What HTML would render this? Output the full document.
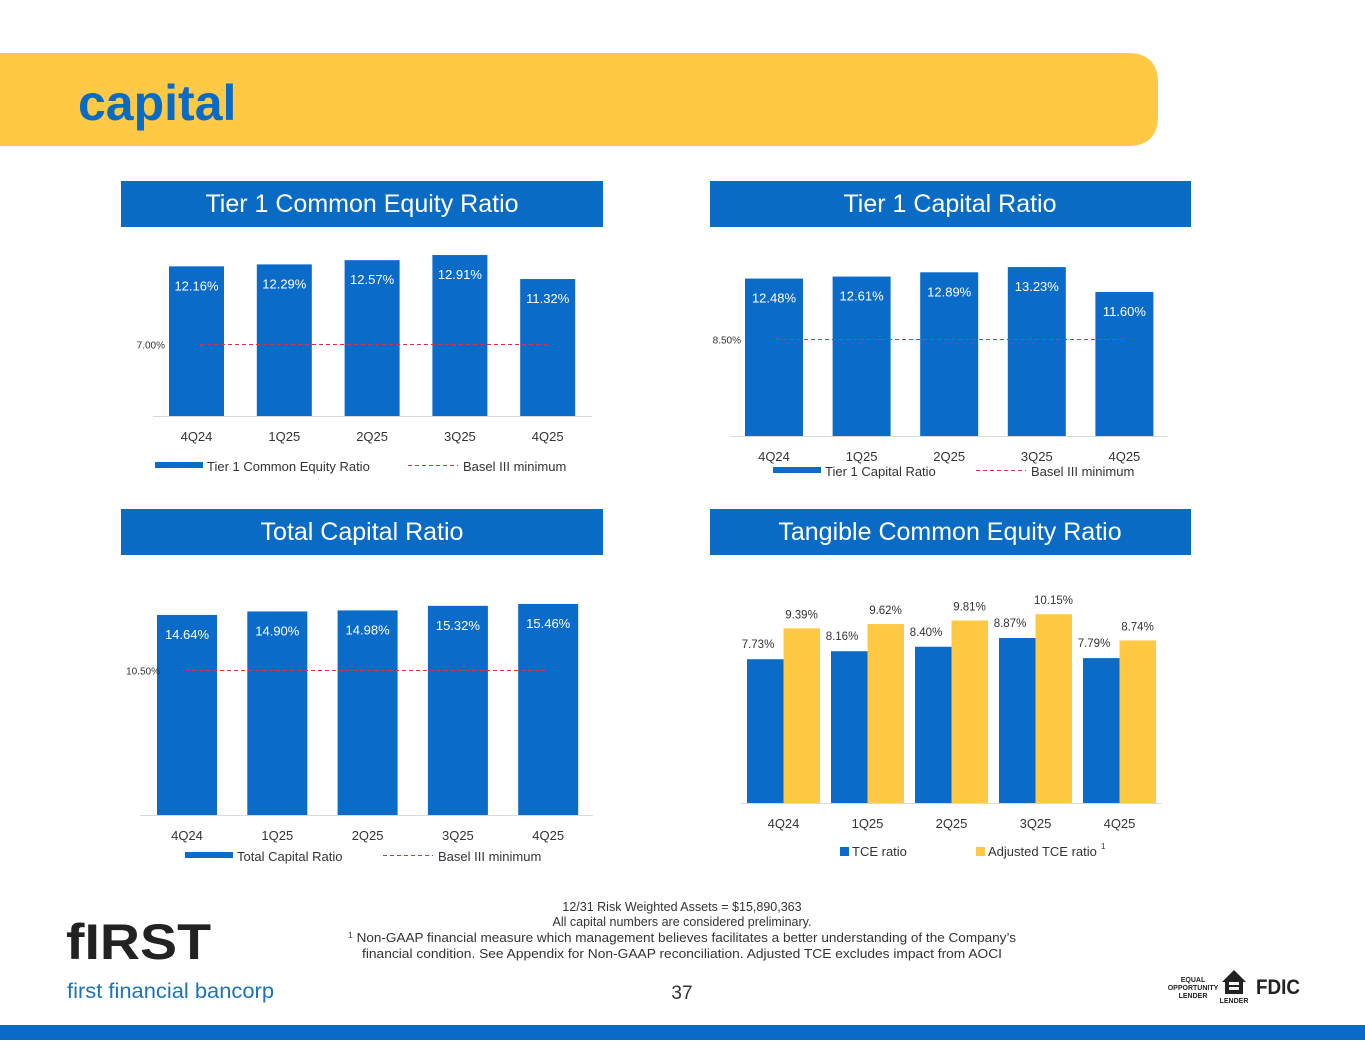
<!DOCTYPE html>
<html><head><meta charset="utf-8">
<style>
html,body{margin:0;padding:0;background:#fff;}
body{width:1365px;height:1055px;overflow:hidden;font-family:"Liberation Sans",sans-serif;}
svg text{font-family:"Liberation Sans",sans-serif;}
</style></head>
<body>
<svg id="page" width="1365" height="1055" viewBox="0 0 1365 1055" xmlns="http://www.w3.org/2000/svg">
  <path d="M0 53 H1128 Q1158 53 1158 83 V116 Q1158 146 1128 146 H0 Z" fill="#FFC845"/>
  <text x="78" y="120" font-size="50" font-weight="bold" fill="#0A6BC4">capital</text>

  <rect x="121" y="181" width="482" height="46" fill="#0A6BC4"/>
  <text x="362" y="212" text-anchor="middle" font-size="25" fill="#fff">Tier 1 Common Equity Ratio</text>
  <rect x="710" y="181" width="481" height="46" fill="#0A6BC4"/>
  <text x="950" y="212" text-anchor="middle" font-size="25" fill="#fff">Tier 1 Capital Ratio</text>
  <rect x="121" y="509" width="482" height="46" fill="#0A6BC4"/>
  <text x="362" y="540" text-anchor="middle" font-size="25" fill="#fff">Total Capital Ratio</text>
  <rect x="710" y="509" width="481" height="46" fill="#0A6BC4"/>
  <text x="950" y="540" text-anchor="middle" font-size="25" fill="#fff">Tangible Common Equity Ratio</text>

  <g id="charts"></g>

  <g font-size="12.5" fill="#333" text-anchor="middle">
    <text x="682" y="911">12/31 Risk Weighted Assets = $15,890,363</text>
    <text x="682" y="926">All capital numbers are considered preliminary.</text>
    <text x="682" y="942" textLength="668" lengthAdjust="spacingAndGlyphs"><tspan font-size="8" dy="-4">1</tspan><tspan dy="4"> Non-GAAP financial measure which management believes facilitates a better understanding of the Company’s</tspan></text>
    <text x="682" y="958" textLength="640" lengthAdjust="spacingAndGlyphs">financial condition.  See Appendix for Non-GAAP reconciliation.  Adjusted TCE excludes impact from AOCI</text>
  </g>
  <text x="682" y="999" text-anchor="middle" font-size="19" fill="#333">37</text>

  <g>
    <text x="66" y="959" font-size="50" font-weight="bold" fill="#222" textLength="145" lengthAdjust="spacingAndGlyphs">fIRST</text>
    <text x="67" y="998" font-size="21" fill="#1A73BE" textLength="207" lengthAdjust="spacingAndGlyphs">first financial bancorp</text>
  </g>
  <g fill="#222" font-weight="bold">
    <text x="1193" y="982" font-size="7" text-anchor="middle">EQUAL</text>
    <text x="1193" y="990" font-size="7" text-anchor="middle">OPPORTUNITY</text>
    <text x="1193" y="998" font-size="7" text-anchor="middle">LENDER</text>
    <path d="M1222 982 L1234 970 L1246 982 H1243 V994 H1225 V982 Z" fill="#222"/>
    <rect x="1229" y="982" width="10" height="3" fill="#fff"/><rect x="1229" y="987" width="10" height="3" fill="#fff"/>
    <text x="1234" y="1003" font-size="7" text-anchor="middle">LENDER</text>
    <text x="1256" y="994" font-size="21" textLength="44" lengthAdjust="spacingAndGlyphs">FDIC</text>
  </g>
  <rect x="0" y="1025" width="1365" height="15" fill="#0A6BC4"/>
</svg>
<script>
const quarters = ["4Q24","1Q25","2Q25","3Q25","4Q25"];
const tier1CommonValues = [12.16,12.29,12.57,12.91,11.32];
const tier1CommonMin = 7.00;
const tier1CapitalValues = [12.48,12.61,12.89,13.23,11.60];
const tier1CapitalMin = 8.50;
const totalCapitalValues = [14.64,14.90,14.98,15.32,15.46];
const totalCapitalMin = 10.50;
const tceValues = [7.73,8.16,8.40,8.87,7.79];
const adjTceValues = [9.39,9.62,9.81,10.15,8.74];

const NS="http://www.w3.org/2000/svg";
const root=document.getElementById('charts');
function mk(tag,attrs,parent,text){const e=document.createElementNS(NS,tag);for(const k in attrs)e.setAttribute(k,attrs[k]);if(text!==undefined)e.textContent=text;(parent||root).appendChild(e);return e;}
const fmt=v=>v.toFixed(2)+'%';

function barChart(cfg,values,minVal){
  const g=mk('g',{});
  
  
  const y=v=>cfg.base-(v-cfg.v0)*cfg.k;
  const x=i=>cfg.x0+i*cfg.step;
  const ax=mk('line',{x1:cfg.ax0,x2:cfg.ax1,y1:cfg.base+0.5,y2:cfg.base+0.5,stroke:'#d9d9d9','stroke-width':1},g);
  
  
  values.forEach((v,i)=>{
    const r=mk('rect',{x:x(i),y:y(v),width:cfg.w,height:cfg.base-y(v),fill:'#0A6BC9'},g);
    
    
    const t=mk('text',{x:x(i)+cfg.w/2,y:y(v)+24,'text-anchor':'middle','font-size':13,fill:'#fff'},g,fmt(v));
    
    
    const q=mk('text',{x:x(i)+cfg.w/2,y:cfg.base+25,'text-anchor':'middle','font-size':13,fill:'#333'},g,quarters[i]);
    
    
  });
  const ly=Math.round(y(minVal))+0.5;
  const dl=mk('line',{x1:cfg.d0,x2:cfg.d1,y1:ly,y2:ly,stroke:'#E0303A','stroke-width':1,'stroke-dasharray':'4,3'},g);
  
  
  const ml=mk('text',{x:cfg.mlx,y:ly+4,'text-anchor':'end','font-size':10,fill:'#333'},g,fmt(minVal));
  
  
  const lg=mk('g',{},g);
  
  
  mk('rect',{x:cfg.lx,y:cfg.ly-5,width:48,height:6,fill:'#0A6BC9'},lg);
  mk('text',{x:cfg.lx+52,y:cfg.ly+4,'font-size':13,fill:'#333'},lg,cfg.label);
  mk('line',{x1:cfg.lx2,x2:cfg.lx2+50,y1:cfg.ly-1.5,y2:cfg.ly-1.5,stroke:'#E0303A','stroke-dasharray':'4,3'},lg);
  mk('text',{x:cfg.lx2+55,y:cfg.ly+4,'font-size':13,fill:'#333'},lg,'Basel III minimum');
}

barChart({name:'tier1-common-chart',base:416,v0:2.25,k:15.1,x0:169,step:87.8,w:55,ax0:153,ax1:592,d0:200,d1:548,mlx:165,lx:155,ly:467,label:'Tier 1 Common Equity Ratio',lx2:408},tier1CommonValues,tier1CommonMin);
barChart({name:'tier1-capital-chart',base:436,v0:2.19,k:15.3,x0:745,step:87.6,w:58,ax0:730,ax1:1168,d0:776,d1:1125,mlx:741,lx:773,ly:472,label:'Tier 1 Capital Ratio',lx2:976},tier1CapitalValues,tier1CapitalMin);
barChart({name:'total-capital-chart',base:815,v0:-0.29,k:13.4,x0:157,step:90.3,w:60,ax0:140,ax1:593,d0:185,d1:548,mlx:160,lx:185,ly:857,label:'Total Capital Ratio',lx2:383},totalCapitalValues,totalCapitalMin);

(function(){
  const g=mk('g',{});
  
  
  const base=803,k=18.6;
  const y=v=>base-v*k;
  const x=i=>747+i*84;
  const ax=mk('line',{x1:741,x2:1162,y1:base+0.5,y2:base+0.5,stroke:'#d9d9d9'},g);
  
  
  quarters.forEach((q,i)=>{
    const a=tceValues[i],b=adjTceValues[i];
    const r1=mk('rect',{x:x(i),y:y(a),width:36.5,height:base-y(a),fill:'#0A6BC9'},g);
    
    
    const r2=mk('rect',{x:x(i)+36.5,y:y(b),width:36.5,height:base-y(b),fill:'#FFC845'},g);
    
    
    const t1=mk('text',{x:Math.max(748,x(i)+11),y:y(a)-11,'text-anchor':'middle','font-size':11.5,fill:'#333'},g,fmt(a));
    
    
    const t2=mk('text',{x:x(i)+54.5,y:y(b)-10,'text-anchor':'middle','font-size':11.5,fill:'#333'},g,fmt(b));
    
    
    const ql=mk('text',{x:x(i)+36.5,y:base+25,'text-anchor':'middle','font-size':13,fill:'#333'},g,q);
    
    
  });
  const lg=mk('g',{},g);
  
  
  mk('rect',{x:840,y:847,width:9,height:9,fill:'#0A6BC9'},lg);
  mk('text',{x:852,y:856,'font-size':13,fill:'#333'},lg,'TCE ratio');
  mk('rect',{x:976,y:847,width:9,height:9,fill:'#FFC845'},lg);
  mk('text',{x:988,y:856,'font-size':13,fill:'#333'},lg,'Adjusted TCE ratio');
  mk('text',{x:1101,y:849,'font-size':8,fill:'#333'},lg,'1');
})();
</script>
</body></html>
